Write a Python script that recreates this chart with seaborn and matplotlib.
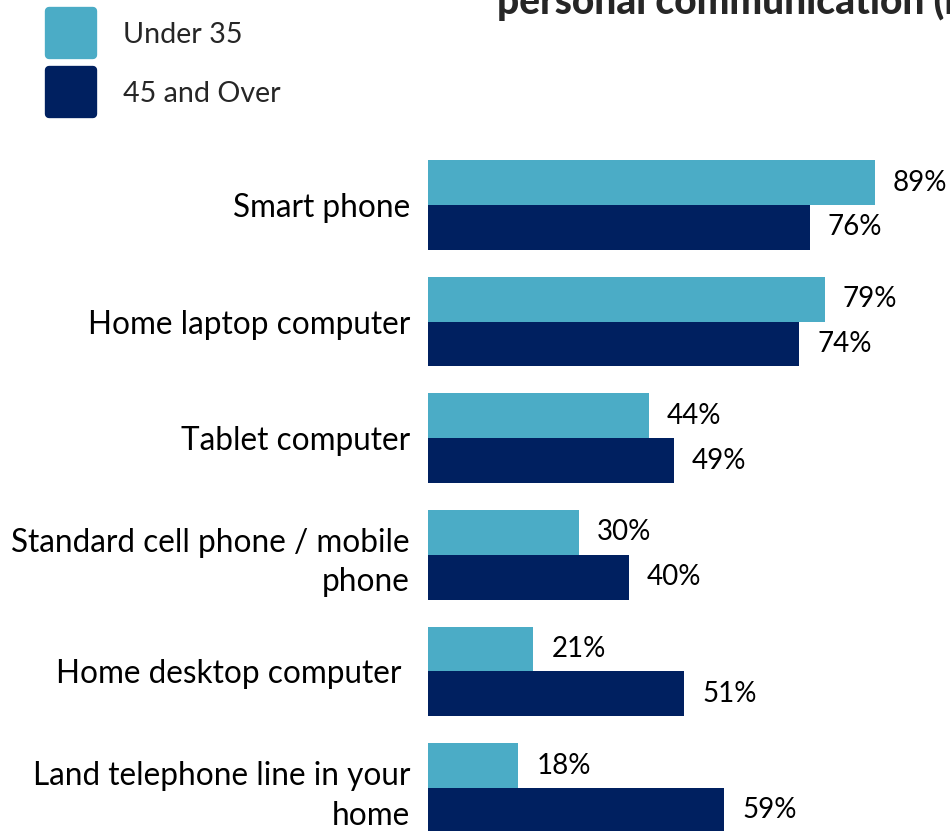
import matplotlib
matplotlib.use("Agg")
import matplotlib.pyplot as plt
from matplotlib.lines import Line2D
from matplotlib.markers import MarkerStyle
import pandas as pd
import seaborn as sns

devices = [
    "Smart phone",
    "Home laptop computer",
    "Tablet computer",
    "Standard cell phone / mobile\nphone",
    "Home desktop computer ",
    "Land telephone line in your\nhome",
]
groups = ["Under 35", "45 and Over"]
under_35 = [89, 79, 44, 30, 21, 18]
over_45 = [76, 74, 49, 40, 51, 59]
colours = ["#4BACC6", "#002060"]

df = pd.DataFrame({
    "device": devices * 2,
    "group": [groups[0]] * len(devices) + [groups[1]] * len(devices),
    "pct": under_35 + over_45,
})

sns.set_style("white")
plt.rcParams["font.family"] = ["Lato", "DejaVu Sans"]

W, H = 950, 831
fig = plt.figure(figsize=(W / 100, H / 100), dpi=100)
ax = fig.add_axes([428 / W, 0, 522 / W, 1])

sns.barplot(data=df, y="device", x="pct", hue="group", orient="h",
            palette=colours, width=0.77, saturation=1, linewidth=0, ax=ax)
ax.get_legend().remove()

for cont in ax.containers:
    ax.bar_label(cont, fmt="{:.0f}%", padding=13, fontsize=20, color="black")

# pixel mapping: group centres at 205 px + 116.6 px steps, 0% at 428 px, 5.02 px per %
pitch = 116.6
ax.set_ylim((H - 205) / pitch, -205 / pitch)
ax.set_xlim(0, 522 / 5.02)

ax.set_xlabel("")
ax.set_ylabel("")
ax.set_xticks([])
ax.tick_params(axis="y", length=0, pad=13, labelsize=22.7, labelcolor="black")
for lab in ax.get_yticklabels():
    lab.set_linespacing(1.4)
sns.despine(ax=ax, left=True, bottom=True)

# title is cut off by the top/right edge, as in the reference
fig.text(497 / W, 1 - 14 / H, "personal communication (net)",
         fontsize=28, fontweight="black", va="baseline", ha="left")

handles = [
    Line2D([], [], linestyle="", marker=MarkerStyle("s", joinstyle="round"),
           markersize=31, markerfacecolor=c, markeredgecolor=c, markeredgewidth=6)
    for c in colours
]
fig.legend(handles, groups, loc="upper left", bbox_to_anchor=(48 / W, 1 - 22 / H),
           frameon=False, fontsize=20.6, labelspacing=1.15, handlelength=1.6,
           handletextpad=1.03, borderpad=0, borderaxespad=0)

fig.savefig("out.png", dpi=100)
